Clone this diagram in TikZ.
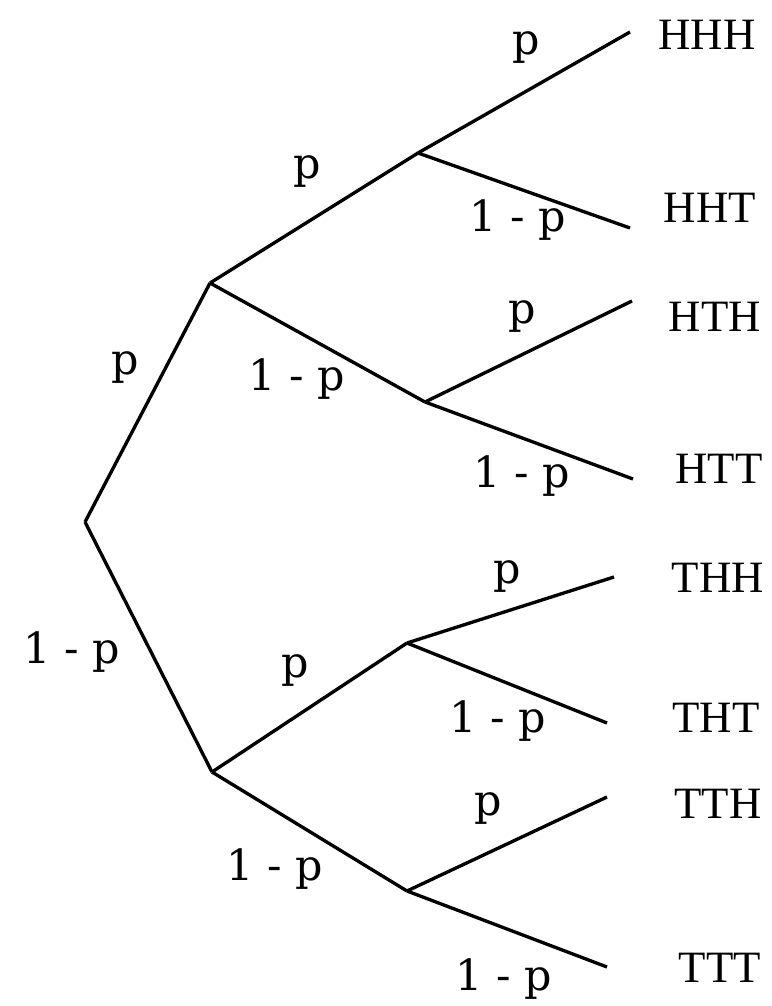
\documentclass[tikz,border=0pt]{standalone}
\usepackage{fontspec}
\setmainfont{Liberation Serif}
\newfontfamily\probfont{DejaVu Serif}
\begin{document}
\begin{tikzpicture}[x=0.02cm,y=-0.02cm,line width=1.9pt,
  outcome/.style={anchor=base,inner sep=0pt,font=\fontsize{25.5}{30}\selectfont},
  prob/.style={anchor=base,inner sep=0pt,font=\probfont\fontsize{24.4}{29}\selectfont}]
\useasboundingbox (0,0) rectangle (771,1006);
% branch points
\coordinate (root) at (85,522);
\coordinate (h) at (210,283);
\coordinate (t) at (212,772);
\coordinate (hh) at (418,153);
\coordinate (ht) at (425,402);
\coordinate (th) at (407,643);
\coordinate (tt) at (407,891);
% free ends
\coordinate (ehhh) at (630,32);
\coordinate (ehht) at (630,228);
\coordinate (ehth) at (632,301);
\coordinate (ehtt) at (633,479);
\coordinate (ethh) at (614,577);
\coordinate (etht) at (607,723);
\coordinate (etth) at (607,797);
\coordinate (ettt) at (607,967);
\foreach \a/\b in {root/h,root/t,h/hh,h/ht,t/th,t/tt,hh/ehhh,hh/ehht,ht/ehth,ht/ehtt,th/ethh,th/etht,tt/etth,tt/ettt} \draw (\a)--(\b);
% probabilities
\foreach \n/\x/\y/\lab in {lh/125/375/p,lt/72/663/1 - p,lhh/307/179/p,lht/297/390/1 - p,lhhh/526/55/p,lhht/518/232/1 - p,lhth/522/324/p,lhtt/522/487/1 - p,lth/295/677/p,ltt/275/880/1 - p,lthh/507/583/p,ltht/498/732/1 - p,ltth/488/815/p,lttt/504/990/1 - p} \node[prob] (\n) at (\x,\y) {\lab};
% outcomes
\foreach \n/\x/\y/\lab in {hhh/707/50/HHH,hht/710/223/HHT,hth/715/332/HTH,htt/719/483/HTT,thh/718/592/THH,tht/716/732/THT,tth/718/818/TTH,ttt/720/982/TTT} \node[outcome] (\n) at (\x,\y) {\lab};
\end{tikzpicture}
\end{document}
